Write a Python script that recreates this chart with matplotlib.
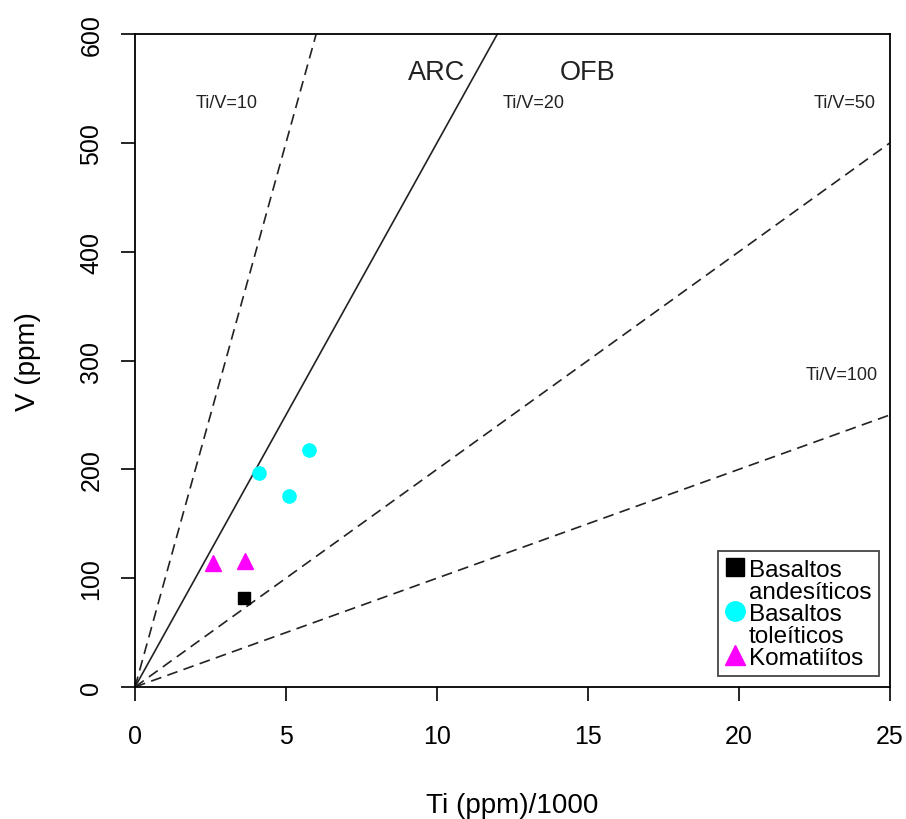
import numpy as np
import matplotlib.pyplot as plt
from matplotlib.lines import Line2D

plt.rcParams['font.family'] = ['Liberation Sans', 'DejaVu Sans']

# Datos de las muestras (Ti en ppm/1000, V en ppm)
ti_andes = [3.6]
v_andes = [82]
ti_tole = [4.1, 5.1, 5.75]
v_tole = [197, 176, 218]
ti_koma = [2.6, 3.65]
v_koma = [114, 116]

# Relaciones Ti/V del diagrama de Shervais
razones = [10, 20, 50, 100]
etiquetas = ['Ti/V=10', 'Ti/V=20', 'Ti/V=50', 'Ti/V=100']
etiq_x = [3.05, 13.2, 23.5, 23.4]
etiq_y = [537, 537, 537, 287]

fig = plt.figure(figsize=(9.06, 8.2), dpi=100)
ax = fig.add_axes([0.149, 0.161, 0.833, 0.796])

# Lineas de Ti/V
x = np.linspace(0, 25, 200)
for r in razones:
    v = x * 1000 / r
    if r == 20:
        ax.plot(x, v, color='#222222', lw=1.2)
    else:
        ax.plot(x, v, color='#222222', lw=1.2, ls=(0, (6.5, 3.8)))

for t, tx, ty in zip(etiquetas, etiq_x, etiq_y):
    ax.text(tx, ty, t, fontsize=13, ha='center', va='center', color='#222222')

ax.text(10.0, 565, 'ARC', fontsize=19.5, ha='center', va='center', color='#222222')
ax.text(15.0, 565, 'OFB', fontsize=19.5, ha='center', va='center', color='#222222')

# Muestras
ax.plot(ti_andes, v_andes, ls='none', marker='s', ms=8.6, color='black')
ax.plot(ti_tole, v_tole, ls='none', marker='o', ms=9.5, color='cyan')
ax.plot(ti_koma, v_koma, ls='none', marker='^', ms=12, color='magenta')

ax.set_xlim(0, 25)
ax.set_ylim(0, 600)
ax.set_xticks([0, 5, 10, 15, 20, 25])
ax.set_yticks([0, 100, 200, 300, 400, 500, 600])
ax.tick_params(direction='out', length=10, width=1.2, labelsize=18)
ax.tick_params(axis='x', pad=17)
ax.tick_params(axis='y', pad=12.7)
for lab in ax.get_yticklabels():
    lab.set_rotation(90)
    lab.set_va('center')
for s in ax.spines.values():
    s.set_linewidth(1.3)

ax.set_xlabel('Ti (ppm)/1000', fontsize=20, labelpad=31)
ax.set_ylabel('V (ppm)', fontsize=20, labelpad=28)

# Leyenda estilo R (simbolo junto a la primera linea)
vacio = Line2D([], [], ls='none', marker='')
handles = [Line2D([], [], ls='none', marker='s', ms=13.5, color='black'), vacio,
           Line2D([], [], ls='none', marker='o', ms=14, color='cyan'), vacio,
           Line2D([], [], ls='none', marker='^', ms=14, color='magenta')]
labels = ['Basaltos', 'andesíticos', 'Basaltos', 'toleíticos', 'Komatiítos']
leg = ax.legend(handles, labels, loc='lower right', fontsize=17.5, frameon=True,
                fancybox=False, edgecolor='#444444', handlelength=0.8,
                handletextpad=0.17, labelspacing=0.0, borderpad=0.3,
                borderaxespad=0.45, framealpha=1)
leg.get_frame().set_linewidth(1.3)

plt.savefig('out.png', dpi=100)
